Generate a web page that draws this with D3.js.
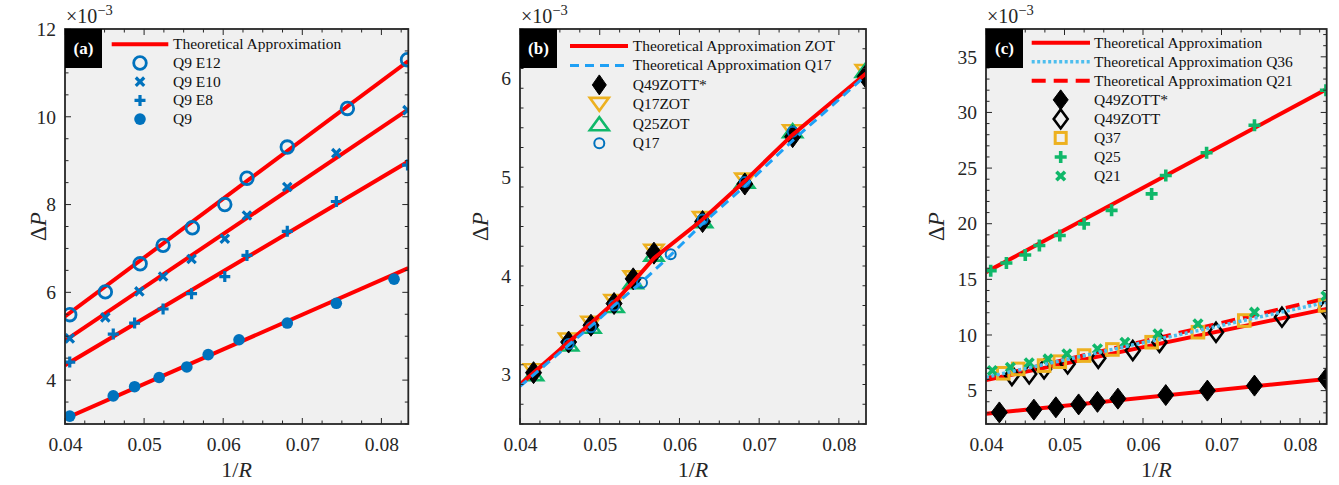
<!DOCTYPE html>
<html><head><meta charset="utf-8">
<script src="https://cdn.jsdelivr.net/npm/d3@7"></script>
<style>body{margin:0;background:#fff}svg{display:block}</style>
</head><body><svg id="c" width="1339" height="485"></svg>
<script>
// ---------- DATA ----------
// Panel (a)
const xA_E12 = [0.0406,0.0451,0.0495,0.0524,0.0561,0.0602,0.0630,0.0681,0.0757,0.0833];
const yA_E12 = [5.49,6.01,6.65,7.07,7.47,8.00,8.60,9.31,10.19,11.30];
const xA_E10 = [0.0406,0.0451,0.0494,0.0524,0.0560,0.0602,0.0630,0.0681,0.0743,0.0833];
const yA_E10 = [4.95,5.43,6.02,6.36,6.76,7.22,7.75,8.40,9.17,10.15];
const xA_E8  = [0.0406,0.0461,0.0488,0.0524,0.0560,0.0602,0.0630,0.0681,0.0743,0.0833];
const yA_E8  = [4.41,5.05,5.30,5.62,5.97,6.36,6.84,7.39,8.07,8.90];
const xA_Q9  = [0.0406,0.0461,0.0488,0.0519,0.0554,0.0581,0.0620,0.0681,0.0743,0.0816];
const yA_Q9  = [3.18,3.64,3.85,4.06,4.30,4.58,4.92,5.30,5.75,6.30];
const xA_th  = [0.0400,0.0834];
const yA_thE12 = [5.45,11.27];
const yA_thE10 = [4.90,10.17];
const yA_thE8  = [4.34,8.98];
const yA_thQ9  = [3.12,6.55];

// Panel (b)
const xB = [0.0417,0.0461,0.0489,0.0518,0.0542,0.0568,0.0629,0.0682,0.0742,0.0833];
const yB_Q49s  = [3.02,3.33,3.50,3.72,3.97,4.23,4.55,4.93,5.41,6.02];
const yB_Q17Z  = [3.04,3.35,3.52,3.74,3.98,4.25,4.58,4.97,5.46,6.07];
const yB_Q25Z  = [3.01,3.31,3.49,3.70,3.94,4.22,4.56,4.96,5.47,6.08];
const xB_Q17 = [0.0461,0.0489,0.0518,0.0553,0.0589,0.0629,0.0682,0.0742];
const yB_Q17 = [3.31,3.48,3.70,3.93,4.22,4.57,4.95,5.46];
const xB_thZOT = [0.0400,0.0417,0.0461,0.0489,0.0518,0.0542,0.0568,0.0629,0.0682,0.0742,0.0834];
const yB_thZOT = [2.90,3.02,3.33,3.52,3.73,3.94,4.18,4.57,4.96,5.43,6.05];
const xB_thQ17 = [0.0400,0.0461,0.0489,0.0518,0.0553,0.0589,0.0629,0.0682,0.0742,0.0834];
const yB_thQ17 = [2.88,3.30,3.49,3.70,3.94,4.21,4.53,4.91,5.37,6.03];

// Panel (c)
const xC_Q49s = [0.0417,0.0461,0.0489,0.0518,0.0542,0.0568,0.0629,0.0682,0.0742,0.0833];
const yC_Q49s = [3.04,3.29,3.50,3.76,3.99,4.28,4.60,5.00,5.45,6.05];
const xC_Q49  = [0.0433,0.0455,0.0474,0.0504,0.0543,0.0587,0.0621,0.0693,0.0777,0.0833];
const yC_Q49  = [6.35,6.50,6.95,7.40,7.90,8.60,9.35,10.25,11.60,12.40];
const xC_Q37  = [0.0422,0.0441,0.0474,0.0494,0.0525,0.0561,0.0611,0.0670,0.0729,0.0832];
const yC_Q37  = [6.56,6.95,7.25,7.60,8.15,8.70,9.35,10.25,11.30,12.66];
const xC_Q25  = [0.0406,0.0426,0.0450,0.0468,0.0494,0.0525,0.0560,0.0611,0.0629,0.0681,0.0742,0.0833];
const yC_Q25  = [15.78,16.47,17.19,18.04,18.94,19.99,21.20,22.68,24.34,26.38,28.85,32.00];
const xC_Q21  = [0.0408,0.0431,0.0455,0.0479,0.0503,0.0542,0.0577,0.0619,0.0670,0.0742,0.0833];
const yC_Q21  = [6.80,7.10,7.50,7.85,8.30,8.75,9.35,10.10,11.00,12.05,13.50];
const xC_th = [0.0400,0.0834];
const yC_thQ25  = [15.65,32.10];
const yC_thQ49s = [2.92,6.05];
const yC_thQ49  = [5.95,12.35];
const yC_thQ36  = [6.20,12.95];
const yC_thQ21  = [6.10,13.30];

const xTicks = [0.04,0.05,0.06,0.07,0.08];
const yTicksA = [4,6,8,10,12];
const yTicksB = [3,4,5,6];
const yTicksC = [5,10,15,20,25,30,35];

// ---------- STYLE ----------
const BLUE="#0072BD", RED="#FF0000", ORANGE="#EDB120", GREEN="#10B86A", LBLUE="#1FA0F5", DBLUE="#4DBEEE";
const SERIF="'Liberation Serif','Times New Roman','DejaVu Serif',serif";
const svg = d3.select("#c");
const zip=(xs,ys)=>xs.map((x,i)=>[x,ys[i]]);

const M = {
  oCircle:(r,c,w)=>(g,x,y)=>g.append("circle").attr("cx",x).attr("cy",y).attr("r",r).attr("fill","none").attr("stroke",c).attr("stroke-width",w),
  fCircle:(r,c)=>(g,x,y)=>g.append("circle").attr("cx",x).attr("cy",y).attr("r",r).attr("fill",c),
  xMark:(s,c,w)=>(g,x,y)=>g.append("path").attr("d",`M${x-s},${y-s}L${x+s},${y+s}M${x-s},${y+s}L${x+s},${y-s}`).attr("stroke",c).attr("stroke-width",w).attr("fill","none"),
  plus:(s,c,w)=>(g,x,y)=>g.append("path").attr("d",`M${x-s},${y}L${x+s},${y}M${x},${y-s}L${x},${y+s}`).attr("stroke",c).attr("stroke-width",w).attr("fill","none"),
  diamond:(hw,hh,fill,stroke,w)=>(g,x,y)=>g.append("path").attr("d",`M${x},${y-hh}L${x+hw},${y}L${x},${y+hh}L${x-hw},${y}Z`).attr("fill",fill).attr("stroke",stroke).attr("stroke-width",w),
  triDown:(hw,h,c,w)=>(g,x,y)=>g.append("path").attr("d",`M${x-hw},${y-h/2}L${x+hw},${y-h/2}L${x},${y+h/2}Z`).attr("fill","none").attr("stroke",c).attr("stroke-width",w),
  triUp:(hw,h,c,w)=>(g,x,y)=>g.append("path").attr("d",`M${x-hw},${y+h/2}L${x+hw},${y+h/2}L${x},${y-h/2}Z`).attr("fill","none").attr("stroke",c).attr("stroke-width",w),
  square:(s,c,w)=>(g,x,y)=>g.append("rect").attr("x",x-s).attr("y",y-s).attr("width",2*s).attr("height",2*s).attr("fill","none").attr("stroke",c).attr("stroke-width",w)
};

function panel(cfg){
  const T=29,B=424;
  const x=d3.scaleLinear().domain([0.04,0.0834]).range([cfg.L,cfg.R]);
  const y=d3.scaleLinear().domain(cfg.yDom).range([B,T]);
  const g=svg.append("g");
  g.append("rect").attr("x",cfg.L).attr("y",T).attr("width",cfg.R-cfg.L).attr("height",B-T).attr("fill","#f0f0f0");
  const clip="clip"+cfg.id;
  g.append("clipPath").attr("id",clip).append("rect").attr("x",cfg.L).attr("y",T).attr("width",cfg.R-cfg.L).attr("height",B-T);
  const pg=g.append("g").attr("clip-path",`url(#${clip})`);
  const line=d3.line().x(d=>x(d[0])).y(d=>y(d[1]));
  const drawLine=(l)=>pg.append("path").datum(zip(l.xs,l.ys)).attr("d",line).attr("fill","none").attr("stroke",l.color).attr("stroke-width",l.w).attr("stroke-dasharray",l.dash||null);
  const drawSeries=(s)=>{const sg=pg.append("g"); s.xs.forEach((xv,i)=>s.m(sg,x(xv),y(s.ys[i])));};
  cfg.order.forEach(o=>{ if(o.kind==="line") drawLine(o); else drawSeries(o); });

  const tg=g.append("g").attr("stroke","#262626").attr("stroke-width",1);
  const xMinor=d3.range(0,18).map(i=>0.04+i*0.0025).filter(v=>v<=0.0834);
  const yMinor=d3.range(cfg.yDom[0],cfg.yDom[1]+1e-9,cfg.yMinorStep);
  const tk=(x1,y1,x2,y2)=>tg.append("line").attr("x1",x1).attr("y1",y1).attr("x2",x2).attr("y2",y2);
  xMinor.forEach(v=>{const isMaj=xTicks.some(t=>Math.abs(t-v)<1e-6);const l=isMaj?6:3.5;tk(x(v),B,x(v),B-l);tk(x(v),T,x(v),T+l);});
  yMinor.forEach(v=>{const isMaj=cfg.yTicks.some(t=>Math.abs(t-v)<1e-6);const l=isMaj?6:3.5;tk(cfg.L,y(v),cfg.L+l,y(v));tk(cfg.R,y(v),cfg.R-l,y(v));});
  const xa=g.append("g").attr("transform",`translate(0,${B})`).call(d3.axisBottom(x).tickValues(xTicks).tickFormat(d3.format(".2f")).tickSize(0).tickPadding(13));
  const ya=g.append("g").attr("transform",`translate(${cfg.L},0)`).call(d3.axisLeft(y).tickValues(cfg.yTicks).tickFormat(d3.format("d")).tickSize(0).tickPadding(9));
  [xa,ya].forEach(a=>{a.select(".domain").remove();a.attr("font-family",SERIF);a.selectAll("text").attr("font-family",SERIF).attr("font-size",19.5).attr("fill","#262626");});
  g.append("rect").attr("x",cfg.L).attr("y",T).attr("width",cfg.R-cfg.L).attr("height",B-T).attr("fill","none").attr("stroke","#262626").attr("stroke-width",1.8);
  const ex=g.append("text").attr("x",cfg.L+1).attr("y",23).attr("font-family",SERIF).attr("font-size",20).attr("fill","#262626");
  ex.append("tspan").text("×10");
  ex.append("tspan").attr("dy",-8).attr("font-size",14.5).text("−3");
  const xl=g.append("text").attr("x",(cfg.L+cfg.R)/2).attr("y",477).attr("text-anchor","middle").attr("font-family",SERIF).attr("font-size",22).attr("fill","#262626");
  xl.append("tspan").text("1/");xl.append("tspan").attr("font-style","italic").text("R");
  const yl=g.append("text").attr("transform",`translate(${cfg.yLabX},${(T+B)/2}) rotate(-90)`).attr("text-anchor","middle").attr("font-family",SERIF).attr("font-size",23).attr("fill","#262626");
  yl.append("tspan").text("Δ");yl.append("tspan").attr("font-style","italic").text("P");
  g.append("rect").attr("x",cfg.L).attr("y",T).attr("width",37).attr("height",39).attr("fill","#000");
  g.append("text").attr("x",cfg.L+18.5).attr("y",T+25).attr("text-anchor","middle").attr("font-family",SERIF).attr("font-weight","bold").attr("font-size",17).attr("fill","#fff").text(cfg.tag);
  const lg=g.append("g");
  cfg.legend.forEach((e,i)=>{
    const ry=cfg.lg.y0+i*cfg.lg.dy;
    if(e.kind==="line") lg.append("line").attr("x1",cfg.L+cfg.lg.x1).attr("x2",cfg.L+cfg.lg.x2).attr("y1",ry).attr("y2",ry).attr("stroke",e.color).attr("stroke-width",e.w).attr("stroke-dasharray",e.dash||null);
    else e.m(lg,cfg.L+cfg.lg.mx,ry);
    lg.append("text").attr("x",cfg.L+cfg.lg.tx).attr("y",ry+5).attr("font-family",SERIF).attr("font-size",15.5).attr("fill","#111").text(e.text);
  });
}

const mA={E12:M.oCircle(6.3,BLUE,2.8),E10:M.xMark(4.2,BLUE,3.2),E8:M.plus(5.5,BLUE,3.2),Q9:M.fCircle(5.8,BLUE)};
const thA=c=>({kind:"line",xs:xA_th,ys:c,color:RED,w:4});
panel({id:"a",tag:"(a)",L:65,R:408.3,yDom:[3,12],yTicks:yTicksA,yMinorStep:0.5,yLabX:46,
  order:[thA(yA_thE12),thA(yA_thE10),thA(yA_thE8),thA(yA_thQ9),
    {xs:xA_E12,ys:yA_E12,m:mA.E12},{xs:xA_E10,ys:yA_E10,m:mA.E10},{xs:xA_E8,ys:yA_E8,m:mA.E8},{xs:xA_Q9,ys:yA_Q9,m:mA.Q9}],
  lg:{x1:46.7,x2:103.3,mx:75,tx:108,y0:44.3,dy:18.7},
  legend:[{kind:"line",color:RED,w:4,text:"Theoretical Approximation"},{m:mA.E12,text:"Q9 E12"},{m:mA.E10,text:"Q9 E10"},{m:mA.E8,text:"Q9 E8"},{m:mA.Q9,text:"Q9"}]
});

const mB={D:M.diamond(8,11,"#000","#000",1),TD:M.triDown(9.5,13,ORANGE,2.6),TU:M.triUp(9.5,13,GREEN,2.6),C:M.oCircle(5,BLUE,2)};
const mBL={D:M.diamond(7,10,"#000","#000",1),TD:M.triDown(9.5,13,ORANGE,2.6),TU:M.triUp(9.5,13,GREEN,2.6),C:M.oCircle(5,BLUE,2)};
panel({id:"b",tag:"(b)",L:520,R:866,yDom:[2.5,6.5],yTicks:yTicksB,yMinorStep:0.2,yLabX:488,
  order:[{xs:xB,ys:yB_Q17Z,m:mB.TD},{xs:xB,ys:yB_Q25Z,m:mB.TU},{xs:xB,ys:yB_Q49s,m:mB.D},{xs:xB_Q17,ys:yB_Q17,m:mB.C},
    {kind:"line",xs:xB_thZOT,ys:yB_thZOT,color:RED,w:4},
    {kind:"line",xs:xB_thQ17,ys:yB_thQ17,color:LBLUE,w:3,dash:"9,6"}],
  lg:{x1:50,x2:108,mx:79.3,tx:112.7,y0:46,dy:19.45},
  legend:[{kind:"line",color:RED,w:4,text:"Theoretical Approximation ZOT"},{kind:"line",color:LBLUE,w:3,dash:"9,6",text:"Theoretical Approximation Q17"},
    {m:mBL.D,text:"Q49ZOTT*"},{m:mBL.TD,text:"Q17ZOT"},{m:mBL.TU,text:"Q25ZOT"},{m:mBL.C,text:"Q17"}]
});

const mC={D:M.diamond(8,10.5,"#000","#000",1),OD:M.diamond(7,9.5,"none","#000",2.6),S:M.square(5.8,ORANGE,3),P:M.plus(6,GREEN,3.6),X:M.xMark(4.3,GREEN,3.6)};
const mCL={D:M.diamond(7.5,10,"#000","#000",1),OD:M.diamond(7,9.5,"none","#000",2.6),S:M.square(5.5,ORANGE,3),P:M.plus(6,GREEN,3.6),X:M.xMark(4.3,GREEN,3.6)};
panel({id:"c",tag:"(c)",L:986,R:1326.7,yDom:[2,37.5],yTicks:yTicksC,yMinorStep:1,yLabX:944,
  order:[{kind:"line",xs:xC_th,ys:yC_thQ25,color:RED,w:4},{kind:"line",xs:xC_th,ys:yC_thQ49s,color:RED,w:4},
    {kind:"line",xs:xC_th,ys:yC_thQ49,color:RED,w:4},{kind:"line",xs:xC_th,ys:yC_thQ21,color:RED,w:4,dash:"14,8"},
    {xs:xC_Q49s,ys:yC_Q49s,m:mC.D},{xs:xC_Q49,ys:yC_Q49,m:mC.OD},{xs:xC_Q37,ys:yC_Q37,m:mC.S},{xs:xC_Q25,ys:yC_Q25,m:mC.P},{xs:xC_Q21,ys:yC_Q21,m:mC.X},
    {kind:"line",xs:xC_th,ys:yC_thQ36,color:DBLUE,w:3.5,dash:"3,2.5"}],
  lg:{x1:45.7,x2:104,mx:74.7,tx:108,y0:42.7,dy:19.05},
  legend:[{kind:"line",color:RED,w:4,text:"Theoretical Approximation"},{kind:"line",color:DBLUE,w:3.5,dash:"3,2.5",text:"Theoretical Approximation Q36"},
    {kind:"line",color:RED,w:4,dash:"14,8",text:"Theoretical Approximation Q21"},
    {m:mCL.D,text:"Q49ZOTT*"},{m:mCL.OD,text:"Q49ZOTT"},{m:mCL.S,text:"Q37"},{m:mCL.P,text:"Q25"},{m:mCL.X,text:"Q21"}]
});
</script></body></html>
